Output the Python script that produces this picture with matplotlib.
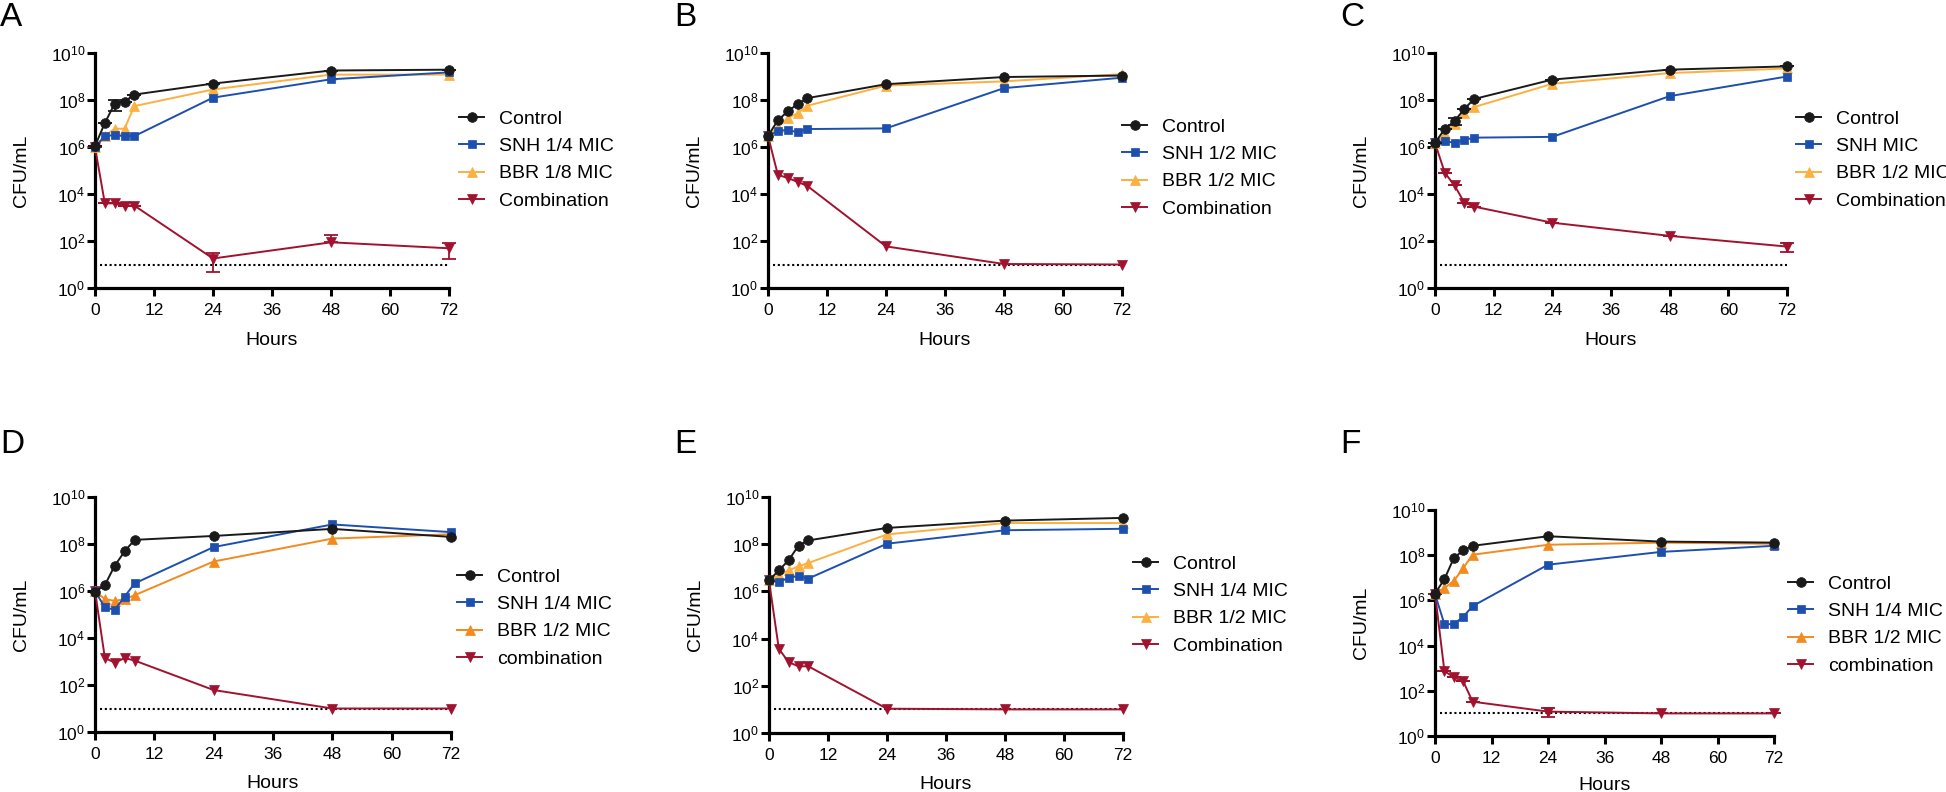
import matplotlib
matplotlib.use('Agg')
import matplotlib.pyplot as plt
from matplotlib.ticker import NullLocator, FixedLocator

plt.rcParams['font.family'] = ['Liberation Sans', 'DejaVu Sans']
plt.rcParams['mathtext.fontset'] = 'custom'
plt.rcParams['mathtext.rm'] = 'Liberation Sans'
plt.rcParams['mathtext.it'] = 'Liberation Sans:italic'
plt.rcParams['mathtext.bf'] = 'Liberation Sans:bold'

# ---------------- data ----------------
hours = [0, 2, 4, 6, 8, 24, 48, 72]
x_ticks = [0, 12, 24, 36, 48, 60, 72]
y_ticks = [1e0, 1e2, 1e4, 1e6, 1e8, 1e10]
LOD = 10
lod_span = [1, 72]
panel_letters = ['A', 'B', 'C', 'D', 'E', 'F']

A_labels = ['Control', 'SNH 1/4 MIC', 'BBR 1/8 MIC', 'Combination']
A_control = [1.1e6, 1.05e7, 7.0e7, 8.5e7, 1.7e8, 5.0e8, 1.8e9, 1.95e9]
A_snh = [1.0e6, 2.9e6, 3.2e6, 2.9e6, 2.9e6, 1.26e8, 7.6e8, 1.5e9]
A_bbr = [1.0e6, 3.0e6, 6.0e6, 6.0e6, 5.5e7, 2.8e8, 1.2e9, 1.2e9]
A_combo = [1.0e6, 4.0e3, 4.0e3, 3.1e3, 3.2e3, 18, 88, 49]
A_control_sd = [0, 0, 3.5e7, 0, 0, 0, 0, 0]
A_combo_sd = [0, 0, 0, 0, 0, 13, 100, 32]

B_labels = ['Control', 'SNH 1/2 MIC', 'BBR 1/2 MIC', 'Combination']
B_control = [3.0e6, 1.35e7, 3.3e7, 6.6e7, 1.2e8, 4.7e8, 9.5e8, 1.1e9]
B_snh = [3.0e6, 4.6e6, 5.5e6, 4.2e6, 5.8e6, 6.2e6, 3.2e8, 8.9e8]
B_bbr = [3.0e6, 7.0e6, 1.7e7, 2.7e7, 5.7e7, 4.1e8, 6.2e8, 1.26e9]
B_combo = [3.0e6, 6.6e4, 4.8e4, 3.3e4, 2.2e4, 59, 10.5, 10]
B_control_sd = [0, 0, 0, 0, 0, 0, 0, 0]
B_combo_sd = [0, 0, 0, 0, 0, 0, 0, 0]

C_labels = ['Control', 'SNH MIC', 'BBR 1/2 MIC', 'Combination']
C_control = [1.5e6, 5.9e6, 1.26e7, 4.2e7, 1.1e8, 7.4e8, 1.96e9, 2.7e9]
C_snh = [1.6e6, 1.8e6, 1.5e6, 2.0e6, 2.5e6, 2.7e6, 1.46e8, 1.0e9]
C_bbr = [1.5e6, 3.7e6, 1.0e7, 2.8e7, 5.0e7, 4.9e8, 1.4e9, 2.2e9]
C_combo = [1.5e6, 8.0e4, 2.3e4, 4.3e3, 2.9e3, 600, 165, 58]
C_control_sd = [0, 0, 4.0e6, 0, 0, 0, 0, 0]
C_combo_sd = [0, 0, 0, 0, 0, 0, 0, 24]

D_labels = ['Control', 'SNH 1/4 MIC', 'BBR 1/2 MIC', 'combination']
D_control = [9.0e5, 1.8e6, 1.2e7, 4.9e7, 1.5e8, 2.2e8, 4.4e8, 2.0e8]
D_snh = [1.0e6, 2.0e5, 1.6e5, 5.8e5, 2.1e6, 7.4e7, 6.8e8, 3.2e8]
D_bbr = [1.0e6, 4.5e5, 3.8e5, 4.5e5, 6.6e5, 1.8e7, 1.7e8, 2.6e8]
D_combo = [1.0e6, 1.4e3, 9.0e2, 1.4e3, 1.1e3, 61, 10, 10]
D_control_sd = [0, 0, 0, 0, 0, 0, 0, 0]
D_combo_sd = [0, 0, 0, 0, 0, 0, 0, 0]

E_labels = ['Control', 'SNH 1/4 MIC', 'BBR 1/2 MIC', 'Combination']
E_control = [2.9e6, 7.8e6, 2.1e7, 8.7e7, 1.45e8, 4.9e8, 1.0e9, 1.3e9]
E_snh = [2.9e6, 2.5e6, 3.8e6, 4.5e6, 3.5e6, 1.05e8, 3.9e8, 4.5e8]
E_bbr = [2.9e6, 4.8e6, 7.8e6, 1.15e7, 1.6e7, 2.6e8, 7.9e8, 7.9e8]
E_combo = [2.9e6, 3.7e3, 1.0e3, 6.7e2, 6.7e2, 10.7, 10, 10]
E_control_sd = [0, 0, 0, 0, 0, 0, 0, 0]
E_combo_sd = [0, 0, 0, 0, 0, 0, 0, 0]

F_labels = ['Control', 'SNH 1/4 MIC', 'BBR 1/2 MIC', 'combination']
F_control = [2.0e6, 8.7e6, 7.5e7, 1.65e8, 2.6e8, 6.9e8, 4.0e8, 3.6e8]
F_snh = [1.9e6, 8.9e4, 8.9e4, 1.9e5, 5.6e5, 3.8e7, 1.4e8, 2.6e8]
F_bbr = [2.0e6, 3.5e6, 7.3e6, 2.7e7, 1.05e8, 2.9e8, 3.6e8, 3.2e8]
F_combo = [2.0e6, 7.4e2, 4.0e2, 2.6e2, 33, 12, 10, 10]
F_control_sd = [0, 0, 0, 0, 0, 0, 0, 0]
F_combo_sd = [0, 0, 0, 0, 0, 5, 0, 0]

# ---------------- styles ----------------
C_BLACK = '#1a1a1a'
C_BLUE = '#1c4fae'
C_ORANGE_LIGHT = '#fbb040'
C_ORANGE_DARK = '#f28a1e'
C_RED = '#a1122e'

panels = [
    (A_labels, A_control, A_snh, A_bbr, A_combo, A_control_sd, A_combo_sd, C_ORANGE_LIGHT),
    (B_labels, B_control, B_snh, B_bbr, B_combo, B_control_sd, B_combo_sd, C_ORANGE_LIGHT),
    (C_labels, C_control, C_snh, C_bbr, C_combo, C_control_sd, C_combo_sd, C_ORANGE_LIGHT),
    (D_labels, D_control, D_snh, D_bbr, D_combo, D_control_sd, D_combo_sd, C_ORANGE_DARK),
    (E_labels, E_control, E_snh, E_bbr, E_combo, E_control_sd, E_combo_sd, C_ORANGE_LIGHT),
    (F_labels, F_control, F_snh, F_bbr, F_combo, F_control_sd, F_combo_sd, C_ORANGE_DARK),
]

W, H = 1946, 792
fig = plt.figure(figsize=(W / 100, H / 100), dpi=100)

# axes boxes in pixels: left, right, top, bottom
boxes = [
    (95, 449, 53, 288),
    (768, 1122, 53, 288),
    (1435, 1787, 53, 288),
    (95, 451, 497, 732),
    (769, 1123, 497, 733),
    (1435, 1774, 510, 736),
]
xlabel_gap = [44, 44, 44, 43, 43, 41]
# legend: handle-left x, vertical centre y (pixels)
legend_pos = [(459, 160), (1122, 168), (1796, 160), (457, 618), (1133, 605), (1788, 625)]
letter_pos = [(0, 2), (674, 2), (1340, 2), (0, 429), (674, 429), (1340, 429)]


def yerr_pair(vals, sd):
    lo = [s if s < v else 0 for v, s in zip(vals, sd)]
    return [lo, list(sd)]


for i, (labels, ctrl, snh, bbr, combo, ctrl_sd, combo_sd, orange) in enumerate(panels):
    l, r, t, b = boxes[i]
    ax = fig.add_axes([l / W, 1 - b / H, (r - l) / W, (b - t) / H])
    ax.set_yscale('log')
    ax.set_xlim(0, 72)
    ax.set_ylim(1, 1e10)

    ax.plot(lod_span, [LOD, LOD], color='black', lw=1.5, ls=(0, (1, 1.3)), zorder=1)

    series = [
        (combo, C_RED, 'v', 7.2, labels[3], combo_sd),
        (bbr, orange, '^', 7.2, labels[2], None),
        (snh, C_BLUE, 's', 6.2, labels[1], None),
        (ctrl, C_BLACK, 'o', 7.0, labels[0], ctrl_sd),
    ]
    handles = {}
    for z, (vals, col, mk, ms, lab, sd) in enumerate(series):
        if sd is not None and any(s > 0 for s in sd):
            ax.errorbar(hours, vals, yerr=yerr_pair(vals, sd), fmt='none', ecolor=col,
                        elinewidth=1.3, capsize=5, capthick=1.3, zorder=2 + z, clip_on=False)
        ln, = ax.plot(hours, vals, color=col, lw=1.4, marker=mk, ms=ms, mfc=col, mec=col,
                      mew=0.5, label=lab, zorder=3 + z, clip_on=False)
        handles[lab] = ln

    for sp in ['top', 'right']:
        ax.spines[sp].set_visible(False)
    for sp in ['left', 'bottom']:
        ax.spines[sp].set_linewidth(2.3)
        ax.spines[sp].set_zorder(0.5)
    ax.set_xticks(x_ticks)
    ax.set_xticklabels([str(v) for v in x_ticks])
    ax.yaxis.set_major_locator(FixedLocator(y_ticks))
    ax.yaxis.set_minor_locator(NullLocator())
    ax.xaxis.set_minor_locator(NullLocator())
    ax.tick_params(axis='both', direction='out', length=6, width=2.2, labelsize=12.5, color='black')
    ax.tick_params(axis='x', pad=5)
    ax.tick_params(axis='y', pad=1)

    ax.set_ylabel('CFU/mL', fontsize=14)
    ax.yaxis.set_label_coords(-65 / (r - l), 0.5)
    ax.set_xlabel('Hours', fontsize=14)
    ax.xaxis.set_label_coords(0.5, -xlabel_gap[i] / (b - t))

    hx, hy = legend_pos[i]
    order = [labels[0], labels[1], labels[2], labels[3]]
    ax.legend([handles[k] for k in order], order, loc='center left',
              bbox_to_anchor=(hx / W, 1 - hy / H), bbox_transform=fig.transFigure,
              frameon=False, fontsize=14, handlelength=1.3, handletextpad=0.75,
              labelspacing=0.5, borderpad=0, borderaxespad=0, numpoints=1)

    lx, ly = letter_pos[i]
    fig.text(lx / W, 1 - ly / H, panel_letters[i], fontsize=24, ha='left', va='top')

fig.savefig('out.png', dpi=100)
